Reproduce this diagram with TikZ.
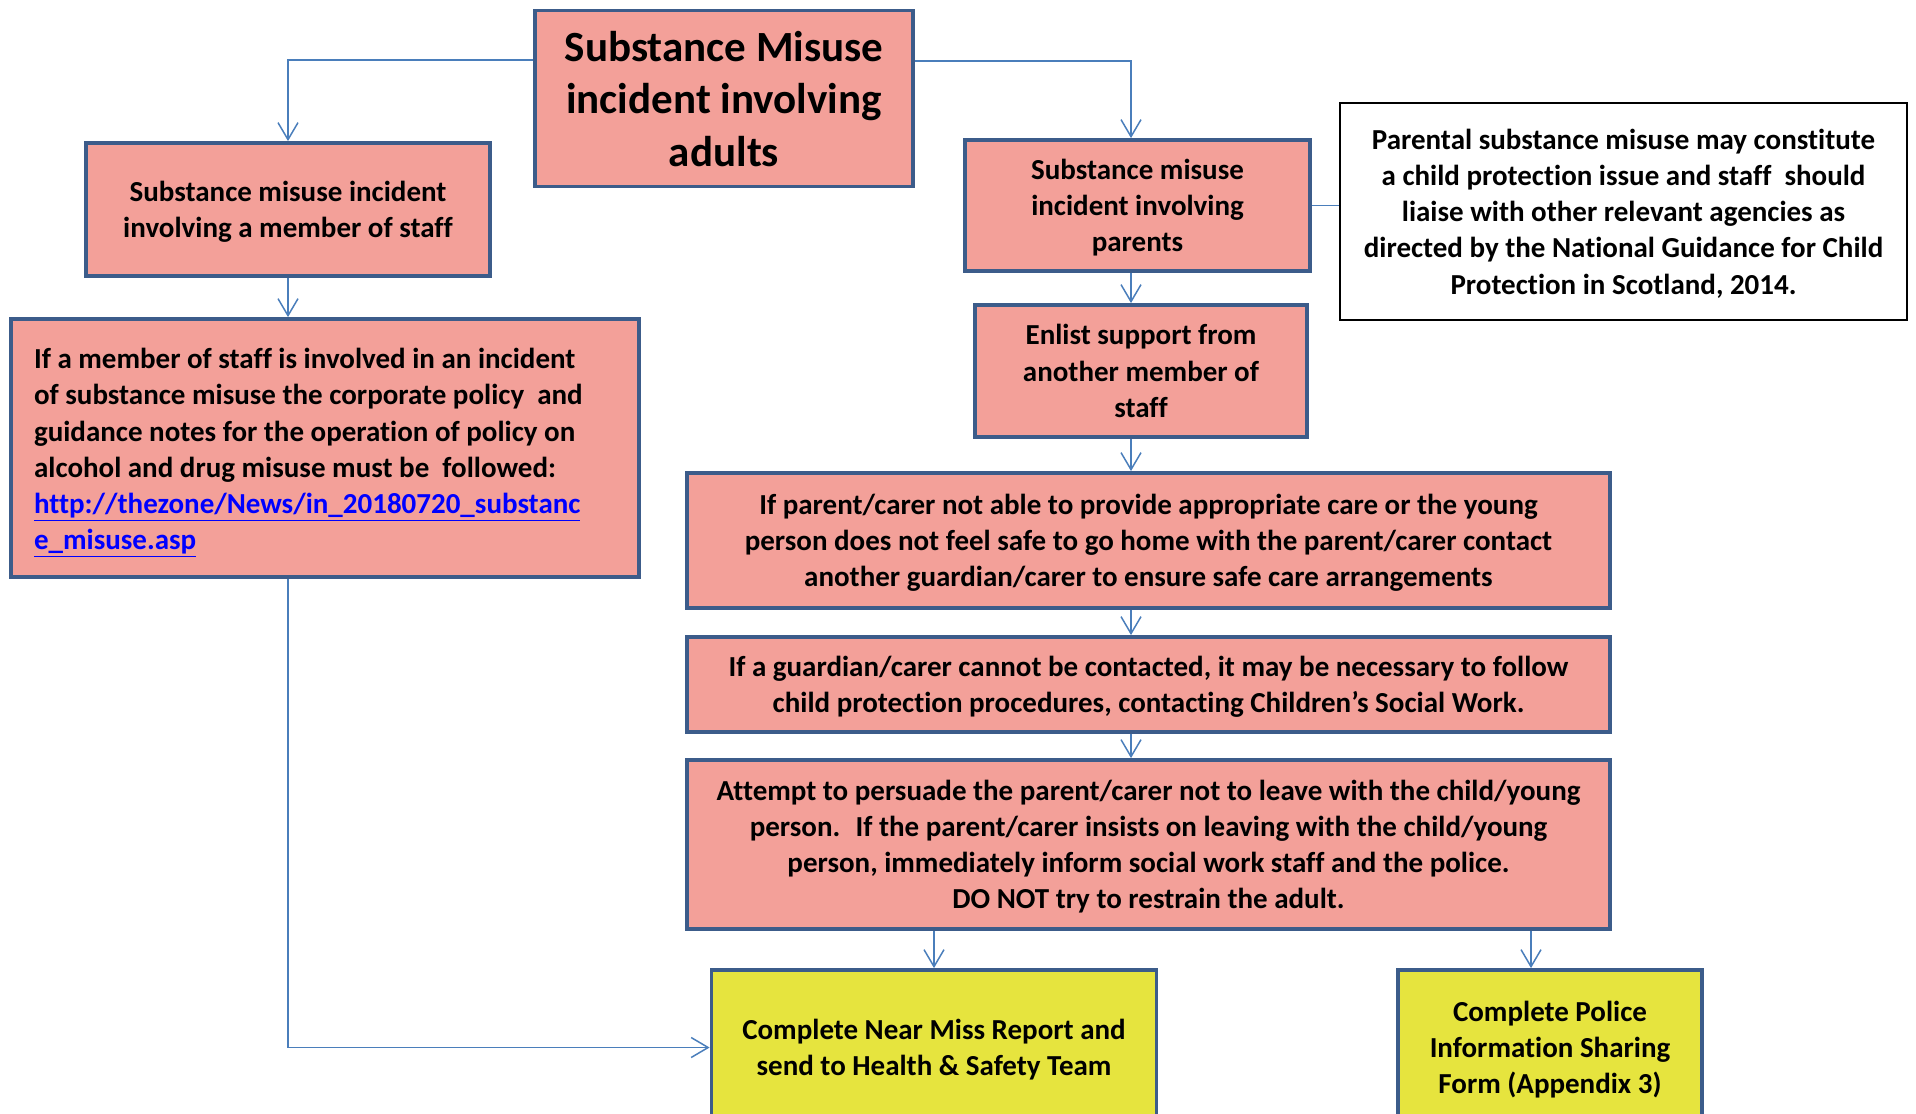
\documentclass[tikz,border=0pt]{standalone}
\usepackage{fontspec}
\setmainfont{Carlito}[Ligatures=NoCommon]
\usetikzlibrary{arrows.meta,positioning,calc}

\definecolor{boxred}{RGB}{243,160,153}
\definecolor{boxyellow}{RGB}{230,228,62}
\definecolor{boxedge}{RGB}{60,92,138}
\definecolor{linkblue}{RGB}{0,0,255}
\definecolor{wireblue}{RGB}{74,126,187}

\begin{document}
\begin{tikzpicture}[
  x=0.02cm, y=-0.02cm,
  stepbox/.style={rectangle, draw=boxedge, line width=2.2pt, fill=boxred, align=center,
    inner sep=0pt, text depth=0pt, font=\fontsize{16.5}{20.6}\selectfont\bfseries},
  finalbox/.style={stepbox, fill=boxyellow},
  notebox/.style={stepbox, draw=black, line width=0.8pt, fill=white},
  flow/.style={draw=wireblue, line width=0.85pt, -{Straight Barb[length=0.34cm,width=0.4cm,line width=0.85pt]}},
  link/.style={draw=wireblue, line width=0.85pt}
]
  \useasboundingbox (0,0) rectangle (1916,1113);

  % top of the chart
  \node[stepbox, minimum width=7.56cm, minimum height=3.52cm,
    font=\fontsize{24.5}{29.9}\selectfont\bfseries] (adults) at (724,98.5)
    {Substance Misuse\\incident involving\\adults};

  % staff branch
  \node[stepbox, minimum width=8.08cm, minimum height=2.66cm] (staff) at (288,209.5)
    {Substance misuse incident\\involving a member of staff};
  \node[stepbox, minimum width=12.56cm, minimum height=5.16cm, text width=11.64cm,
    align=flush left, text depth=, execute at begin node={\rule{0pt}{1.05em}}] (policy) at (325,448)
    {If a member of staff is involved in an incident\\
     of substance misuse the corporate policy \ and\\
     guidance notes for the operation of policy on\\
     alcohol and drug misuse must be \ followed:\\
     \textcolor{linkblue}{\underline{http://thezone/News/in\_20180720\_substanc}}\\
     \textcolor{linkblue}{\underline{e\_misuse.asp}}};

  % parents branch
  \coordinate (spine) at (1131,0);
  \coordinate (policex) at (1531,0);
  \node[stepbox, minimum width=6.9cm, minimum height=2.62cm] (parents) at (1137.5,205.5)
    {Substance misuse\\incident involving\\parents};
  \node[notebox, minimum width=11.34cm, minimum height=4.34cm] (guidance) at (1623.5,211.5)
    {Parental substance misuse may constitute\\
     a child protection issue and staff \ should\\
     liaise with other relevant agencies as\\
     directed by the National Guidance for Child\\
     Protection in Scotland, 2014.};
  \node[stepbox, minimum width=6.64cm, minimum height=2.64cm] (enlist) at (1141,371)
    {Enlist support from\\another member of\\staff};
  \node[stepbox, minimum width=18.46cm, minimum height=2.7cm] (carer) at (1148.5,540.5)
    {If parent/carer not able to provide appropriate care or the young\\
     person does not feel safe to go home with the parent/carer contact\\
     another guardian/carer to ensure safe care arrangements};
  \node[stepbox, minimum width=18.46cm, minimum height=1.9cm] (guardian) at (1148.5,684.5)
    {If a guardian/carer cannot be contacted, it may be necessary to follow\\
     child protection procedures, contacting Children’s Social Work.};
  \node[stepbox, minimum width=18.46cm, minimum height=3.38cm] (persuade) at (1148.5,844.5)
    {Attempt to persuade the parent/carer not to leave with the child/young\\
     person. \ If the parent/carer insists on leaving with the child/young\\
     person, immediately inform social work staff and the police.\\
     DO NOT try to restrain the adult.};

  % outcomes
  \node[finalbox, minimum width=8.9cm, minimum height=3.1cm] (nearmiss) at (934,1047.5)
    {Complete Near Miss Report and\\send to Health \& Safety Team};
  \node[finalbox, minimum width=6.08cm, minimum height=3.1cm] (police) at (1550,1047.5)
    {Complete Police\\Information Sharing\\Form (Appendix 3)};

  % connectors
  \draw[flow] (adults.west |- 0,60) -| (staff.north);
  \draw[flow] (adults.east |- 0,61) -| (spine |- parents.north);
  \draw[flow] (staff.south) -- (staff.south |- policy.north);
  \draw[flow] (staff.south |- policy.south) |- (nearmiss.west);
  \draw[link] (parents.east) -- (parents.east -| guidance.west);
  \draw[flow] (spine |- parents.south) -- (spine |- enlist.north);
  \draw[flow] (spine |- enlist.south) -- (spine |- carer.north);
  \draw[flow] (spine |- carer.south) -- (spine |- guardian.north);
  \draw[flow] (spine |- guardian.south) -- (spine |- persuade.north);
  \draw[flow] (nearmiss.north |- persuade.south) -- (nearmiss.north);
  \draw[flow] (policex |- persuade.south) -- (policex |- police.north);
\end{tikzpicture}
\end{document}
